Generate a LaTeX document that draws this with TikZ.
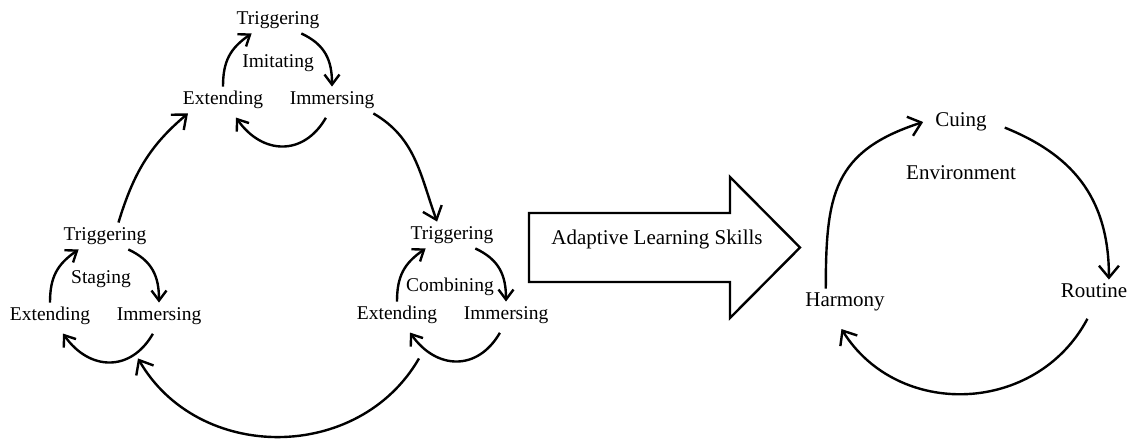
\documentclass[tikz,border=0pt]{standalone}
\usepackage{fontspec}
\setmainfont{Liberation Serif}
\usetikzlibrary{arrows.meta, calc}
\newcommand\habitcycle[4]{
    \coordinate (#1 c) at (#2);
    \node[habit] (#1 trig) at ($(#1 c)+(0,-40)$)  {Triggering};
    \node[habit] (#1 ext)  at ($(#1 c)+(-55,40)$) {Extending};
    \node[habit] (#1 imm)  at ($(#1 c)+(54,40)$)  {Immersing};
    \node[habit] (#1 name) at ($(#1 c)+(#4)$)     {#3};
    \draw[habit arrow, out=90, in=-145, looseness=1.1] (#1 ext.north) to (#1 trig.207);
    \draw[habit arrow, out=-25, in=90, looseness=1.1] (#1 trig.-30) to (#1 imm.north);
    \draw[habit arrow, out=-120, in=-55, looseness=1.35, shorten <=5pt, shorten >=5pt] (#1 imm.255) to (#1 ext.307);
}
\tikzstyle{habit}       = [font=\fontsize{19.5}{23}\selectfont, inner sep=4pt, text height=14pt, text depth=4.5pt]
\tikzstyle{cue}         = [habit, font=\fontsize{21}{25}\selectfont]
\tikzstyle{habit arrow} = [line width=2.4pt, -{Straight Barb[length=10pt, width=15pt]}]
\tikzstyle{ring arrow}  = [line width=2.4pt, -{Straight Barb[length=12pt, width=20pt]}]
\tikzstyle{banner}      = [draw, line width=2.4pt]

\begin{document}
\begin{tikzpicture}[x=1pt, y=-1pt]
        \useasboundingbox (0,0) rectangle (1128,440);

        % the three small cycles
        \habitcycle{left}{105,276}{Staging}{-4,3}
        \habitcycle{top}{278,60}{Imitating}{0,3}
        \habitcycle{right}{452,275}{Combining}{-2,12}

        \draw[ring arrow, out=73, in=-140] (left trig.45) to (top ext.201);
        \draw[ring arrow, out=-30, in=110] (top imm.-18) to (right trig.138);
        \draw[ring arrow, out=-120, in=-60, looseness=1.1] ([shift={(22,30)}]right ext.south) to ([shift={(-21,29)}]left imm.south);

        % big arrow
        \draw[banner] (529,213) -- (730,213) -- (730,177) -- (800,247.5) -- (730,318) -- (730,282) -- (529,282) -- cycle;
        \node[cue] (skills) at (657,240) {Adaptive Learning Skills};

        % environment cycle
        \node[cue] (cuing)       at (961,122)  {Cuing};
        \node[cue] (environment) at (961,175)  {Environment};
        \node[cue] (harmony)     at (845,302)  {Harmony};
        \node[cue] (routine)     at (1094,293) {Routine};

        \draw[ring arrow, out=90, in=-162, looseness=1.25] (harmony.145) to ([xshift=-8pt]cuing.west);
        \draw[ring arrow, out=-22, in=90, looseness=1.1, shorten <=15pt] (cuing.east) to (routine.42);
        \draw[ring arrow, out=-118, in=-58, looseness=1.2, shorten <=14pt, shorten >=16pt] (routine.south) to ([xshift=-12pt]harmony.south);
    \end{tikzpicture}
\end{document}
